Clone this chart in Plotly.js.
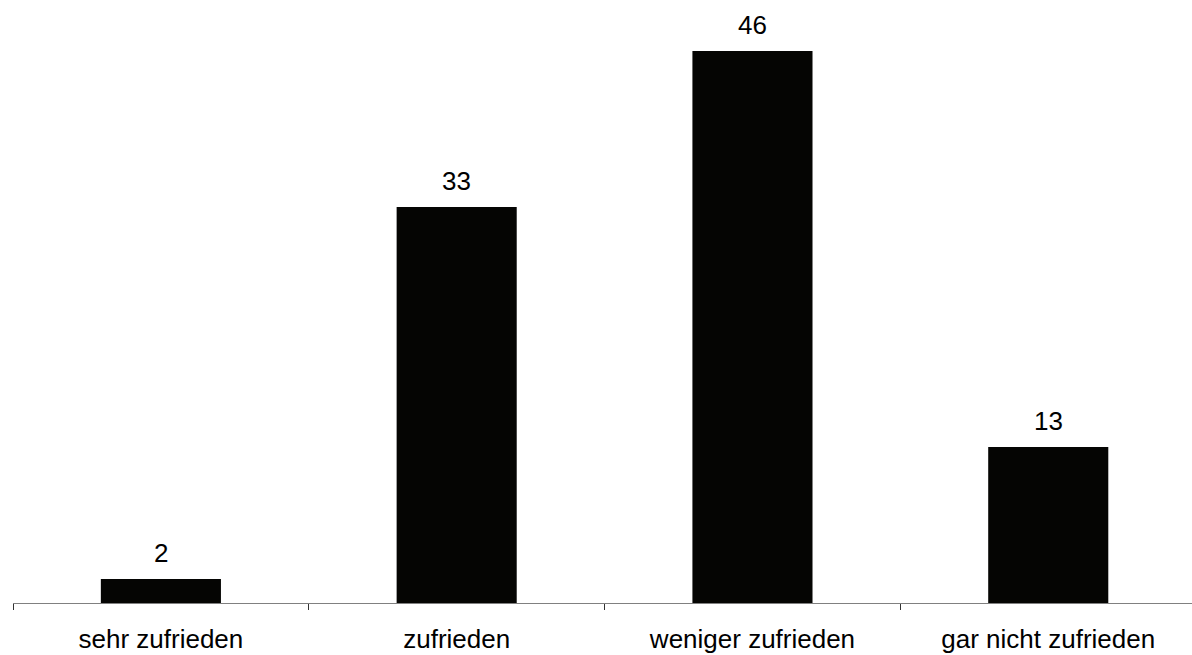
<!DOCTYPE html>
<html>
<head>
<meta charset="utf-8">
<script src="https://cdn.plot.ly/plotly-3.0.1.min.js"></script>
<style>html,body{margin:0;padding:0;background:#fff;}#chart{width:1192px;height:655px;}</style>
</head>
<body>
<div id="chart"></div>
<script>
const categories = ["sehr zufrieden", "zufrieden", "weniger zufrieden", "gar nicht zufrieden"];
const values = [2, 33, 46, 13];
const valueLabels = ["2", "33", "46", "13"];

const trace = {
  type: "bar",
  x: categories,
  y: values,
  marker: {color: "#050503", line: {width: 0}},
  hoverinfo: "x+y"
};

const annotations = categories.map((c, i) => ({
  x: c, y: values[i], xref: "x", yref: "y",
  text: valueLabels[i], showarrow: false,
  yanchor: "bottom", yshift: 9,
  font: {family: "Liberation Sans, Arial, sans-serif", size: 26, color: "#000"}
}));

const layout = {
  width: 1192, height: 655,
  margin: {l: 13, r: 0, t: 0, b: 52},
  paper_bgcolor: "#fff", plot_bgcolor: "#fff",
  showlegend: false,
  bargap: 0.594,
  font: {family: "Liberation Sans, Arial, sans-serif", size: 26, color: "#000"},
  xaxis: {
    type: "category",
    range: [-0.5, 3.486],
    showline: true, linecolor: "#808080", linewidth: 1,
    ticks: "outside", tickson: "boundaries", ticklen: 6, tickcolor: "#333", tickwidth: 1,
    ticklabelstandoff: 13,
    showgrid: false, zeroline: false,
    tickfont: {family: "Liberation Sans, Arial, sans-serif", size: 26, color: "#000"}
  },
  yaxis: {
    range: [0, 50.25],
    visible: false, showgrid: false, zeroline: false
  },
  annotations: annotations
};

Plotly.newPlot("chart", [trace], layout, {staticPlot: true, displayModeBar: false});
</script>
</body>
</html>
